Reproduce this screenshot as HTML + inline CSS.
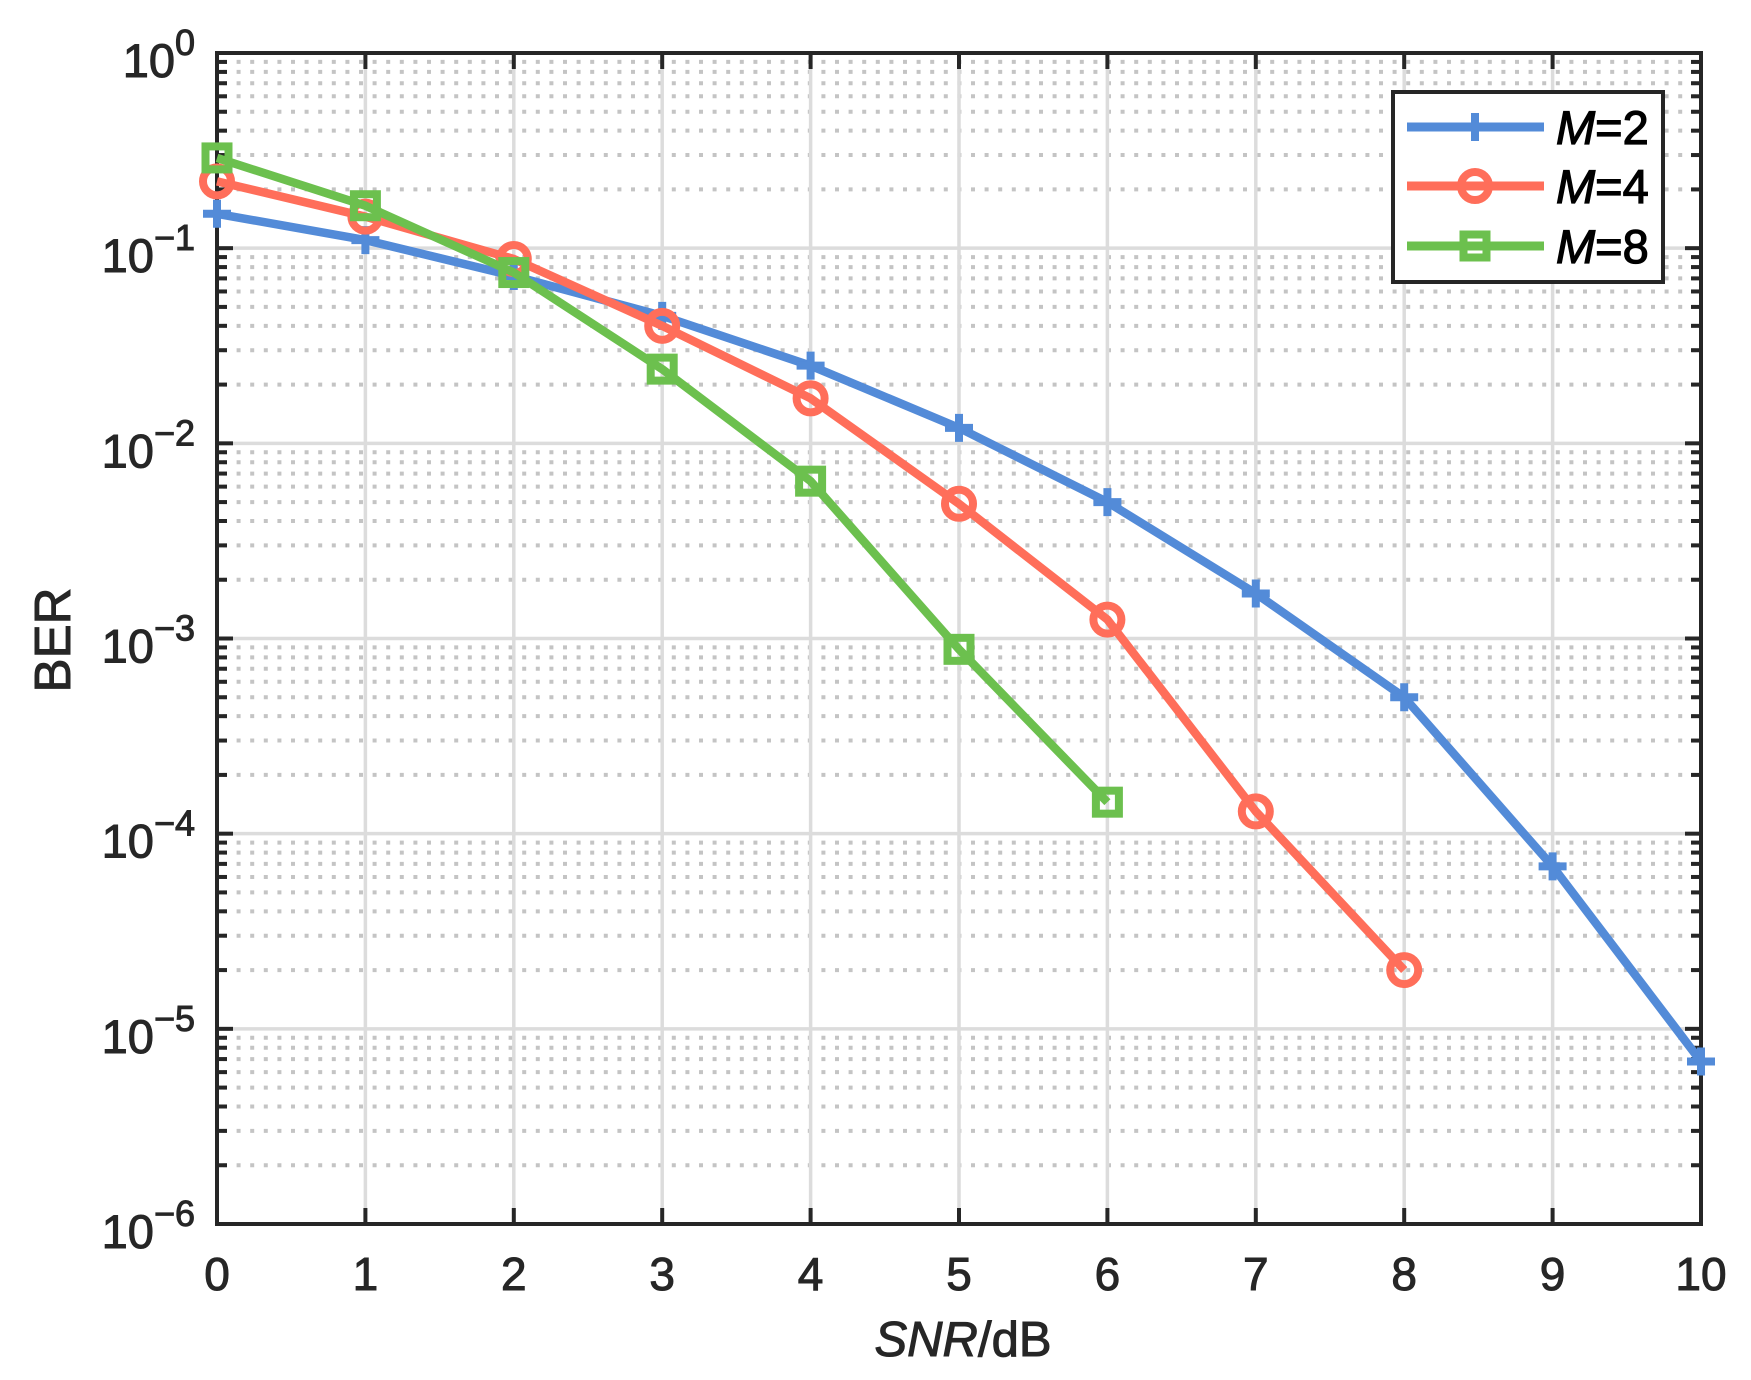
<!DOCTYPE html>
<html><head><meta charset="utf-8"><style>body{margin:0;background:#fff}svg{display:block}</style></head>
<body>
<svg id="s" width="1751" height="1380" xmlns="http://www.w3.org/2000/svg" font-family="Liberation Sans, Arial, sans-serif"></svg>
<script>
const L=217,R=1701,T=53,B=1224,D=(B-T)/6,XS=(R-L)/10;
const X=v=>L+v*XS, Y=v=>T+(-Math.log10(v))*D;
let h='';
for(let d=0;d<6;d++)for(let k=2;k<=9;k++){const y=Y(k*Math.pow(10,-(d+1)));
h+=`<line x1="${L+6}" x2="${R}" y1="${y}" y2="${y}" stroke="#c4c4c4" stroke-width="4" stroke-dasharray="4,9.6"/>`;
h+=`<line x1="${L}" x2="${L+10}" y1="${y}" y2="${y}" stroke="#262626" stroke-width="4"/><line x1="${R-10}" x2="${R}" y1="${y}" y2="${y}" stroke="#262626" stroke-width="4"/>`;}
for(let d=1;d<6;d++){const y=T+d*D;h+=`<line x1="${L}" x2="${R}" y1="${y}" y2="${y}" stroke="#dcdcdc" stroke-width="3.5"/>`;}
for(let i=1;i<10;i++){const x=X(i);h+=`<line x1="${x}" x2="${x}" y1="${T}" y2="${B}" stroke="#dcdcdc" stroke-width="3.5"/>`;}
for(let d=0;d<=6;d++){const y=T+d*D;h+=`<line x1="${L}" x2="${L+16}" y1="${y}" y2="${y}" stroke="#262626" stroke-width="4"/><line x1="${R-16}" x2="${R}" y1="${y}" y2="${y}" stroke="#262626" stroke-width="4"/>`;
h+=`<text x="${L-22}" y="${y+24}" font-size="47" fill="#262626" stroke="#262626" stroke-width="1" text-anchor="end">10<tspan dy="-22" font-size="36">${d?'\u2212'+d:'0'}</tspan></text>`;}
for(let i=0;i<=10;i++){const x=X(i);h+=`<line x1="${x}" x2="${x}" y1="${B}" y2="${B-16}" stroke="#262626" stroke-width="4"/><line x1="${x}" x2="${x}" y1="${T}" y2="${T+16}" stroke="#262626" stroke-width="4"/>`;
h+=`<text x="${x}" y="1290" font-size="46" fill="#262626" stroke="#262626" stroke-width="1" text-anchor="middle">${i}</text>`;}
h+=`<rect x="${L}" y="${T}" width="${R-L}" height="${B-T}" fill="none" stroke="#262626" stroke-width="4"/>`;
const S=[
{c:'#538BD8',m:'+',d:[0.15,0.11,0.072,0.045,0.025,0.012,0.005,0.0017,0.0005,6.8e-5,6.8e-6]},
{c:'#FF6E5A',m:'o',d:[0.22,0.145,0.088,0.04,0.017,0.0049,0.00125,1.3e-4,2e-5]},
{c:'#6CC04E',m:'s',d:[0.29,0.165,0.075,0.024,0.0064,0.00088,1.45e-4]}];
function mk(m,x,y,c){if(m=='+')return `<path d="M${x-14} ${y}H${x+14}M${x} ${y-14}V${y+14}" stroke="${c}" stroke-width="8"/>`;
if(m=='o')return `<circle cx="${x}" cy="${y}" r="14" fill="none" stroke="${c}" stroke-width="8"/>`;
return `<rect x="${x-11.5}" y="${y-11.5}" width="23" height="23" fill="none" stroke="${c}" stroke-width="8"/>`;}
for(const s of S){h+=`<polyline fill="none" stroke="${s.c}" stroke-width="8.5" stroke-linejoin="round" points="${s.d.map((v,i)=>X(i)+','+Y(v)).join(' ')}"/>`;
s.d.forEach((v,i)=>h+=mk(s.m,X(i),Y(v),s.c));}
h+=`<rect x="1393" y="92" width="270" height="190" fill="#fff" stroke="#262626" stroke-width="4"/>`;
[127,186,246].forEach((y,i)=>{const s=S[i];h+=`<line x1="1407" x2="1544" y1="${y}" y2="${y}" stroke="${s.c}" stroke-width="9"/>`+mk(s.m,1475,y,s.c)+
`<text x="1556" y="${y+17}" font-size="47" fill="#000" stroke="#000" stroke-width="1.2"><tspan font-style="italic">M</tspan>=${[2,4,8][i]}</text>`;});
h+=`<text x="963" y="1356" font-size="49" fill="#262626" stroke="#262626" stroke-width="1" text-anchor="middle"><tspan font-style="italic">SNR</tspan>/dB</text>`;
h+=`<text transform="translate(70,640) rotate(-90)" font-size="51" fill="#262626" stroke="#262626" stroke-width="1" text-anchor="middle">BER</text>`;
document.getElementById('s').innerHTML=h;
</script>
</body></html>
